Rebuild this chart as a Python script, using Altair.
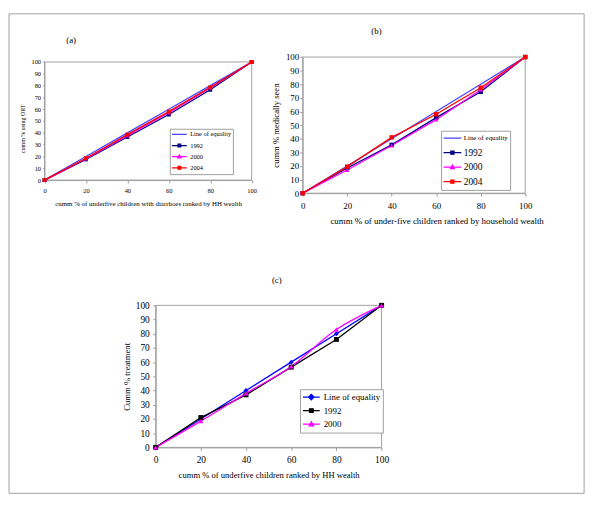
import altair as alt
import pandas as pd

SERIF = "Liberation Serif"
FRAME = "#a0a0a0"

# ---------------- data ----------------
x_pct = [0, 20, 40, 60, 80, 100]
y_ticks = [0, 10, 20, 30, 40, 50, 60, 70, 80, 90, 100]

# panel (a): ORT use
a_series = ["Line of equality", "1992", "2000", "2004"]
a_equality = [0, 20, 40, 60, 80, 100]
a_1992 = [0, 17.5, 36.5, 55.5, 76.5, 100]
a_2000 = [0, 18, 37.5, 57, 78, 100]
a_2004 = [0, 18.5, 38.5, 58, 78.5, 100]
a_colors = ["#4646ff", "#000080", "#ff00ff", "#ff0000"]
a_shapes = ["", "square", "triangle-up", "square"]

# panel (b): medically seen
b_series = ["Line of equality", "1992", "2000", "2004"]
b_equality = [0, 20, 40, 60, 80, 100]
b_1992 = [0, 18.5, 35.5, 55.5, 74.5, 100]
b_2000 = [0, 17, 35, 54, 76, 100]
b_2004 = [0, 19.5, 41, 58, 77.5, 100]
b_colors = ["#4646ff", "#000080", "#ff00ff", "#ff0000"]
b_shapes = ["", "square", "triangle-up", "square"]

# panel (c): treatment
c_series = ["Line of equality", "1992", "2000"]
c_equality = [0, 20, 40, 60, 80, 100]
c_1992 = [0, 21, 37, 56.5, 76, 100]
c_2000 = [0, 18.5, 38, 57, 83, 100]
c_colors = ["#0000ff", "#000000", "#ff00ff"]
c_shapes = ["diamond", "square", "triangle-up"]

panel_labels = ["(a)", "(b)", "(c)"]

W, H = 583, 486


def long_df(series, values):
    rows = []
    for name, vals in zip(series, values):
        for xv, yv in zip(x_pct, vals):
            rows.append({"x": xv, "y": yv, "series": name, "marker": "m:" + name})
    return pd.DataFrame(rows)


def ternary(keys, vals, quote=True):
    q = "'" if quote else ""
    expr = q + str(vals[-1]) + q
    for k, v in reversed(list(zip(keys[:-1], vals[:-1]))):
        expr = "datum.value === '" + k + "' ? " + q + str(v) + q + " : " + expr
    return expr


def sym_path(shape, h):
    base = "M-1,0L1,0"
    if shape == "square":
        return base + f"M{-h:.3f},{-h:.3f}L{h:.3f},{-h:.3f}L{h:.3f},{h:.3f}L{-h:.3f},{h:.3f}Z"
    if shape == "triangle-up":
        return base + f"M0,{-1.25*h:.3f}L{1.2*h:.3f},{0.95*h:.3f}L{-1.2*h:.3f},{0.95*h:.3f}Z"
    if shape == "diamond":
        return base + f"M0,{-1.45*h:.3f}L{1.45*h:.3f},0L0,{1.45*h:.3f}L{-1.45*h:.3f},0Z"
    return base


def axis_common(**kw):
    base = dict(grid=False, domainColor=FRAME, tickColor=FRAME, domainWidth=1, tickWidth=1,
                labelColor="black", titleColor="black", labelFont=SERIF, titleFont=SERIF,
                titleFontWeight="normal", labelFlush=False, labelOverlap=False)
    base.update(kw)
    return alt.Axis(**base)


def make_legend(series, colors, shapes, x, y, pad, row_h, row_pad, font, sym_len,
                marker_px, label_offset, label_sizes=None):
    r = sym_len / 2.0
    h = (marker_px - 1.3) / (2 * r)
    paths = [sym_path(s, h) for s in shapes]
    kw = dict(orient="none", legendX=x, legendY=y, title=None, strokeColor=FRAME,
              fillColor="white", padding=pad, rowPadding=row_pad, clipHeight=row_h,
              labelFont=SERIF, labelColor="black", labelOffset=label_offset,
              symbolSize=sym_len * sym_len, symbolStrokeWidth=1.3, labelLimit=300,
              symbolOpacity=1,
              symbolType=alt.ExprRef(expr=ternary(series, paths)),
              symbolFillColor=alt.ExprRef(expr=ternary(series, colors)),
              symbolStrokeColor=alt.ExprRef(expr=ternary(series, colors)))
    if label_sizes:
        kw["labelFontSize"] = alt.ExprRef(expr=ternary(series, label_sizes, quote=False))
    else:
        kw["labelFontSize"] = font
    return alt.Legend(**kw)


def panel(df, series, colors, shapes, pt_size, xr, yr, xaxis, yaxis, legend, smooth=()):
    cs = alt.Scale(domain=series, range=colors)
    xs = alt.Scale(domain=[0, 100], range=xr, nice=False)
    ys = alt.Scale(domain=[0, 100], range=yr, nice=False)
    frame = alt.Chart(pd.DataFrame({"k": [0]})).mark_rect(
        fill="white", fillOpacity=0, stroke=FRAME, strokeWidth=1).encode(
        x=alt.XDatum(0, scale=xs), x2=alt.datum(100),
        y=alt.YDatum(0, scale=ys), y2=alt.datum(100))
    lin = df[~df["series"].isin(list(smooth))]
    line = alt.Chart(lin).mark_line(strokeWidth=1.3).encode(
        x=alt.X("x:Q", scale=xs, axis=xaxis),
        y=alt.Y("y:Q", scale=ys, axis=yaxis),
        color=alt.Color("series:N", scale=cs, legend=legend),
    )
    layers = [frame, line]
    if smooth:
        sm = df[df["series"].isin(list(smooth))]
        layers.append(alt.Chart(sm).mark_line(strokeWidth=1.3, interpolate="catmull-rom").encode(
            x=alt.X("x:Q", scale=xs),
            y=alt.Y("y:Q", scale=ys),
            color=alt.Color("series:N", scale=cs, legend=None)))
    marked = [s for s, sh in zip(series, shapes) if sh]
    marked_keys = ["m:" + s for s in marked]
    marked_shapes = [sh for sh in shapes if sh]
    pdf = df[df["series"].isin(marked)]
    layers.append(alt.Chart(pdf).mark_point(filled=True, size=pt_size, opacity=1).encode(
        x=alt.X("x:Q", scale=xs),
        y=alt.Y("y:Q", scale=ys),
        color=alt.Color("series:N", scale=cs, legend=None),
        shape=alt.Shape("marker:N", scale=alt.Scale(domain=marked_keys, range=marked_shapes), legend=None)))
    return alt.layer(*layers)


# ---------------- panels (chart coordinates) ----------------
pa = panel(
    long_df(a_series, [a_equality, a_1992, a_2000, a_2004]), a_series, a_colors, a_shapes, 16,
    [36.5, 246.5], [169, 49.3],
    axis_common(orient="bottom", offset=169 - H, values=x_pct,
                title="cumm % of underfive children with diarrhoes ranked by HH wealth",
                tickSize=3, labelPadding=5, labelFontSize=6.5, titleFontSize=7, titlePadding=5),
    axis_common(orient="left", offset=-36.5, values=y_ticks, title="cumm % using ORT",
                tickSize=2, labelPadding=2, labelFontSize=6.5, titleFontSize=6, titlePadding=6, titleY=116.5),
    make_legend(a_series, a_colors, a_shapes, 163.5, 117, 1.2, 9, 2.3, 6.5, 15, 4, 2.5),
)

pb = panel(
    long_df(b_series, [b_equality, b_1992, b_2000, b_2004]), b_series, b_colors, b_shapes, 20,
    [298.2, 523.8], [182.3, 44.3],
    axis_common(orient="bottom", offset=182.3 - H, values=x_pct,
                title="cumm % of under-five children ranked by household wealth",
                tickSize=3, labelPadding=6, labelFontSize=9, titleFontSize=9, titlePadding=5.5, titleX=434),
    axis_common(orient="left", offset=-298.2, values=y_ticks, title="cumm % medically seen",
                tickSize=3, labelPadding=1, labelFontSize=9, titleFontSize=8.7, titlePadding=5),
    make_legend(b_series, b_colors, b_shapes, 438.5, 119, 1.5, 12, 2.7, 9, 18, 4.5, 1.5,
                label_sizes=[7, 9.5, 9.5, 9.5]),
)

pc = panel(
    long_df(c_series, [c_equality, c_1992, c_2000]), c_series, c_colors, c_shapes, 25,
    [149.2, 378.2], [440, 296],
    axis_common(orient="bottom", offset=440 - H, values=x_pct,
                title="cumm % of underfive children ranked by HH wealth",
                tickSize=3, labelPadding=4, labelFontSize=9.5, titleFontSize=8.7, titlePadding=7),
    axis_common(orient="left", offset=-149.2, values=y_ticks, title="Cumm % treatment",
                tickSize=3, labelPadding=3.5, labelFontSize=9.5, titleFontSize=8.8, titlePadding=3.5),
    make_legend(c_series, c_colors, c_shapes, 295.5, 381, 2, 12, 1.7, 9, 17, 5, 3),
    smooth=("2000",),
)


def label_text(txt, x, y):
    return alt.Chart(pd.DataFrame({"t": [txt]})).mark_text(
        font=SERIF, fontSize=9, color="black", align="center", baseline="middle").encode(
        x=alt.value(x), y=alt.value(y), text="t:N")


ta = label_text(panel_labels[0], 63.5, 27)
tb = label_text(panel_labels[1], 373, 18.3)
tc = label_text(panel_labels[2], 272, 270.7)

chart = alt.layer(pa, pb, pc, ta, tb, tc).resolve_scale(
    x="independent", y="independent", color="independent", shape="independent"
).resolve_axis(x="independent", y="independent").resolve_legend(
    color="independent", shape="independent"
).properties(
    width=W, height=H,
    autosize=alt.AutoSizeParams(type="none"),
    padding={"left": 0.5, "top": 2, "right": 8.5, "bottom": 11},
    background="white",
).configure_view(stroke=FRAME, strokeWidth=1)

chart.save("out.html", embed_options={"renderer": "svg", "actions": False})
